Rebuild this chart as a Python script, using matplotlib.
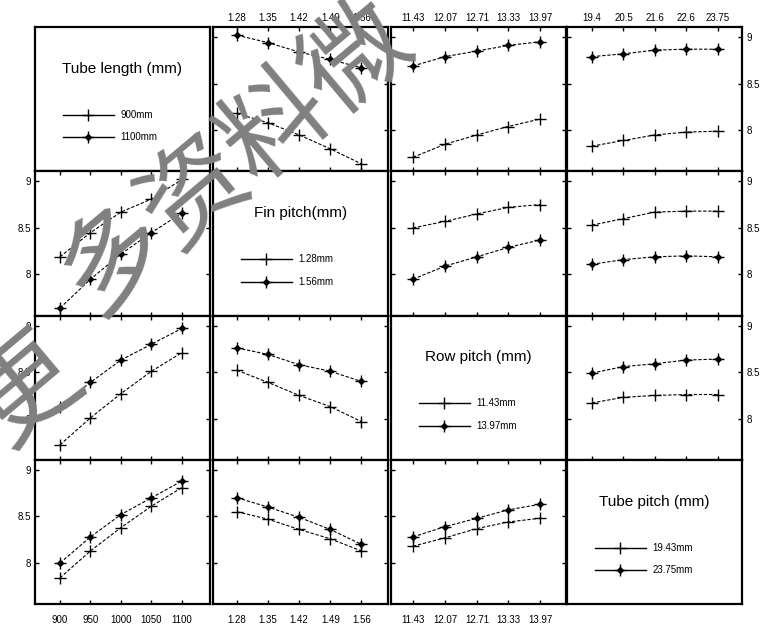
import matplotlib
matplotlib.use("Agg")
import matplotlib.pyplot as plt

plt.rcParams['font.family'] = ['Liberation Sans', 'DejaVu Sans']

# Factor levels (x positions) and their tick labels
tube_length = [900, 950, 1000, 1050, 1100]
fin_pitch = [1.28, 1.35, 1.42, 1.49, 1.56]
row_pitch = [11.43, 12.07, 12.71, 13.33, 13.97]
tube_pitch = [19.43, 20.51, 21.59, 22.67, 23.75]

tube_length_labels = ["900", "950", "1000", "1050", "1100"]
fin_pitch_labels = ["1.28", "1.35", "1.42", "1.49", "1.56"]
row_pitch_labels = ["11.43", "12.07", "12.71", "13.33", "13.97"]
tube_pitch_labels = ["19.4", "20.5", "21.6", "22.6", "23.75"]

# Mean response, grouped by tube length (900mm / 1100mm)
tl_vs_fin_900 = [8.18, 8.08, 7.95, 7.80, 7.64]
tl_vs_fin_1100 = [9.02, 8.94, 8.84, 8.76, 8.67]
tl_vs_row_900 = [7.71, 7.85, 7.95, 8.04, 8.12]
tl_vs_row_1100 = [8.69, 8.79, 8.85, 8.91, 8.95]
tl_vs_tp_900 = [7.83, 7.89, 7.95, 7.98, 7.99]
tl_vs_tp_1100 = [8.79, 8.82, 8.86, 8.87, 8.87]

# grouped by fin pitch (1.28mm / 1.56mm)
fp_vs_tl_128 = [8.19, 8.45, 8.67, 8.81, 9.02]
fp_vs_tl_156 = [7.64, 7.95, 8.22, 8.45, 8.66]
fp_vs_row_128 = [8.50, 8.57, 8.65, 8.72, 8.75]
fp_vs_row_156 = [7.95, 8.09, 8.19, 8.29, 8.37]
fp_vs_tp_128 = [8.53, 8.60, 8.67, 8.68, 8.68]
fp_vs_tp_156 = [8.11, 8.16, 8.19, 8.20, 8.19]

# grouped by row pitch (11.43mm / 13.97mm)
rp_vs_tl_1143 = [7.72, 8.01, 8.27, 8.51, 8.71]
rp_vs_tl_1397 = [8.13, 8.39, 8.63, 8.80, 8.97]
rp_vs_fin_1143 = [8.52, 8.39, 8.25, 8.13, 7.97]
rp_vs_fin_1397 = [8.76, 8.69, 8.58, 8.51, 8.40]
rp_vs_tp_1143 = [8.17, 8.23, 8.25, 8.26, 8.26]
rp_vs_tp_1397 = [8.49, 8.56, 8.59, 8.63, 8.64]

# grouped by tube pitch (19.43mm / 23.75mm)
tp_vs_tl_1943 = [7.84, 8.13, 8.38, 8.61, 8.81]
tp_vs_tl_2375 = [8.00, 8.28, 8.52, 8.70, 8.88]
tp_vs_fin_1943 = [8.55, 8.47, 8.36, 8.26, 8.13]
tp_vs_fin_2375 = [8.70, 8.60, 8.49, 8.36, 8.20]
tp_vs_row_1943 = [8.18, 8.27, 8.37, 8.44, 8.48]
tp_vs_row_2375 = [8.28, 8.39, 8.48, 8.57, 8.63]

factor_titles = ["Tube length (mm)", "Fin pitch(mm)", "Row pitch (mm)", "Tube pitch (mm)"]
level_labels = [["900mm", "1100mm"], ["1.28mm", "1.56mm"],
                ["11.43mm", "13.97mm"], ["19.43mm", "23.75mm"]]
x_levels = [tube_length, fin_pitch, row_pitch, tube_pitch]
x_labels = [tube_length_labels, fin_pitch_labels, row_pitch_labels, tube_pitch_labels]
x_limits = [(859, 1146), (1.226, 1.62), (10.99, 14.49), (18.57, 24.58)]

# (row, col) -> (low level, high level)
panels = {
    (0, 1): (tl_vs_fin_900, tl_vs_fin_1100),
    (0, 2): (tl_vs_row_900, tl_vs_row_1100),
    (0, 3): (tl_vs_tp_900, tl_vs_tp_1100),
    (1, 0): (fp_vs_tl_128, fp_vs_tl_156),
    (1, 2): (fp_vs_row_128, fp_vs_row_156),
    (1, 3): (fp_vs_tp_128, fp_vs_tp_156),
    (2, 0): (rp_vs_tl_1143, rp_vs_tl_1397),
    (2, 1): (rp_vs_fin_1143, rp_vs_fin_1397),
    (2, 3): (rp_vs_tp_1143, rp_vs_tp_1397),
    (3, 0): (tp_vs_tl_1943, tp_vs_tl_2375),
    (3, 1): (tp_vs_fin_1943, tp_vs_fin_2375),
    (3, 2): (tp_vs_row_1943, tp_vs_row_2375),
}

W, H = 768, 630
fig = plt.figure(figsize=(W / 100, H / 100), dpi=100)

col_left = [35, 213, 391, 567]
col_w = 175
row_top = [27, 171.25, 315.5, 459.75]
row_h = 144.25
dash = (0, (3, 1.6))

for r in range(4):
    for c in range(4):
        ax = fig.add_axes([col_left[c] / W, 1 - (row_top[r] + row_h) / H,
                           col_w / W, row_h / H])
        for s in ax.spines.values():
            s.set_linewidth(1.6)
        if r == c:
            ax.set_xticks([])
            ax.set_yticks([])
            ax.set_xlim(0, 1)
            ax.set_ylim(0, 1)
            ax.text(0.5, 0.71, factor_titles[r], ha='center', va='center', fontsize=11)
            for k, yy in enumerate([0.39, 0.235]):
                ax.plot([0.16, 0.45], [yy, yy], color='black', lw=1)
                ax.plot([0.305], [yy], marker='+', ms=9, mew=1, color='black')
                if k == 1:
                    ax.plot([0.305], [yy], marker='D', ms=3, color='black')
                ax.text(0.49, yy, level_labels[r][k], ha='left', va='center', fontsize=7)
            continue

        low, high = panels[(r, c)]
        xs = x_levels[c]
        ax.plot(xs, low, color='black', lw=0.8, ls=dash, marker='+', ms=9, mew=1)
        ax.plot(xs, high, color='black', lw=0.8, ls=dash, marker='+', ms=9, mew=1)
        ax.plot(xs, high, ls='none', marker='D', ms=3, color='black')

        ax.set_xlim(*x_limits[c])
        ax.set_ylim(7.56, 9.108)
        ax.set_xticks(xs)
        ax.set_yticks([8, 8.5, 9])
        ax.tick_params(direction='in', length=3, width=1, top=True, right=True,
                       labelsize=7, labelbottom=(r == 3), labeltop=(r == 0),
                       labelleft=(c == 0), labelright=(c == 3), pad=3)
        ax.tick_params(axis='x', which='major', pad=3 if r == 0 else 8)
        ax.set_xticklabels(x_labels[c])
        ax.set_yticklabels(["8", "8.5", "9"])

# watermark across the upper left
wm_font = dict(rotation=40, ha='center', va='center', fontsize=76, color='#808080',
               family=['Noto Sans CJK SC', 'DejaVu Sans'], zorder=10)
fig.text(0.033, 0.381, "更", **wm_font)
fig.text(0.306, 0.751, "多资料微", **wm_font)

fig.savefig("out.png", dpi=100)
